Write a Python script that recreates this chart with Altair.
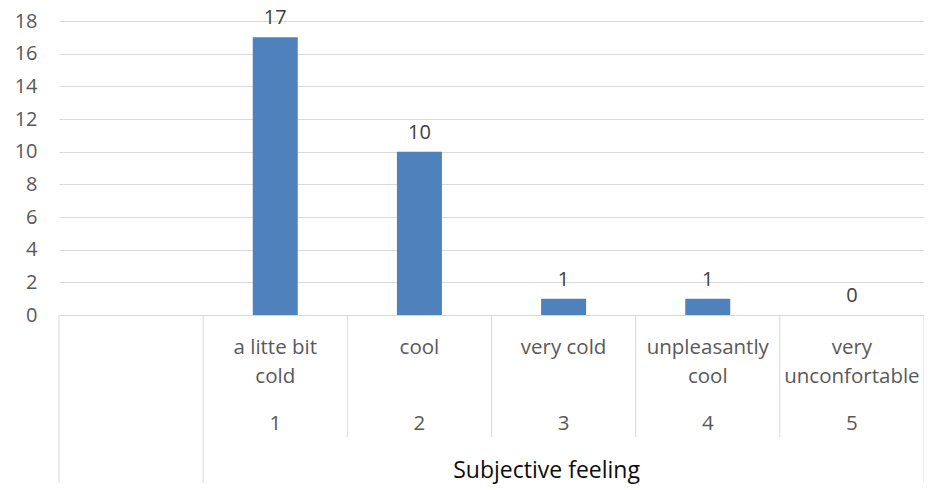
import altair as alt
import pandas as pd

# ---- data ----
codes = [1, 2, 3, 4, 5]
feelings = ["a litte bit\ncold", "cool", "very cold", "unpleasantly\ncool", "very\nunconfortable"]
counts = [17, 10, 1, 1, 0]
group_name = "Subjective feeling"
y_ticks = [0, 2, 4, 6, 8, 10, 12, 14, 16, 18]

# slot 0 is the blank category in front of the group
n_slots = len(codes) + 1

df = pd.DataFrame({"code": codes, "feeling": feelings, "count": counts})
df["pos"] = df["code"] + 0.5

short_b = pd.DataFrame({"b": list(range(2, n_slots))})
long_b = pd.DataFrame({"b": [0, 1, n_slots]})
grp = pd.DataFrame({"name": [group_name], "pos": [df["pos"].mean()]})

W, H = 865, 294
FONT = "Open Sans"
GREY = "#595959"

xs = alt.Scale(domain=[0, n_slots], nice=False, zero=False, padding=0)
ys = alt.Scale(domain=[0, 18], nice=False)
y_axis = alt.Axis(values=y_ticks, grid=True, gridColor="#d9d9d9", gridWidth=1,
                  domain=False, ticks=False, labelFont=FONT, labelFontSize=20,
                  labelColor=GREY, labelPadding=22, labelOverlap=False,
                  labelBound=False, labelFlush=False)

def X(field):
    return alt.X(field, scale=xs, axis=None, title=None)

def Y(field):
    return alt.Y(field, scale=ys, axis=y_axis, title=None)

base = alt.Chart(df)

bars = base.mark_bar(color="#4f81bd", size=45).encode(x=X("pos:Q"), y=Y("count:Q"))

vals = base.mark_text(font=FONT, fontSize=20, color="#404040", baseline="middle", dy=-19).encode(
    x=X("pos:Q"), y=Y("count:Q"), text="count:Q"
)

cat_lbl = base.mark_text(font=FONT, fontSize=20.5, color=GREY, baseline="alphabetic",
                         lineBreak="\n", lineHeight=29).encode(
    x=X("pos:Q"), y=alt.value(H + 39), text="feeling:N"
)

code_lbl = base.mark_text(font=FONT, fontSize=20.5, color=GREY, baseline="alphabetic").encode(
    x=X("pos:Q"), y=alt.value(H + 115), text="code:N"
)

grp_lbl = alt.Chart(grp).mark_text(font=FONT, fontSize=23, color="#0d0d0d",
                                   baseline="alphabetic", dx=-17).encode(
    x=X("pos:Q"), y=alt.value(H + 163), text="name:N"
)

short_rules = alt.Chart(short_b).mark_rule(color="#d9d9d9", strokeWidth=1).encode(
    x=X("b:Q"), y=alt.value(H), y2=alt.value(H + 122)
)
long_rules = alt.Chart(long_b).mark_rule(color="#d9d9d9", strokeWidth=1).encode(
    x=X("b:Q"), y=alt.value(H), y2=alt.value(H + 168)
)

chart = alt.layer(short_rules, long_rules, bars, vals, cat_lbl, code_lbl, grp_lbl).properties(
    width=W, height=H,
    autosize=alt.AutoSizeParams(type="none"),
    padding={"left": 51, "top": 13, "right": 0, "bottom": 175},
    background="white",
).configure_view(strokeWidth=0)

chart.save("out.html", embed_options={"renderer": "svg", "actions": False})
